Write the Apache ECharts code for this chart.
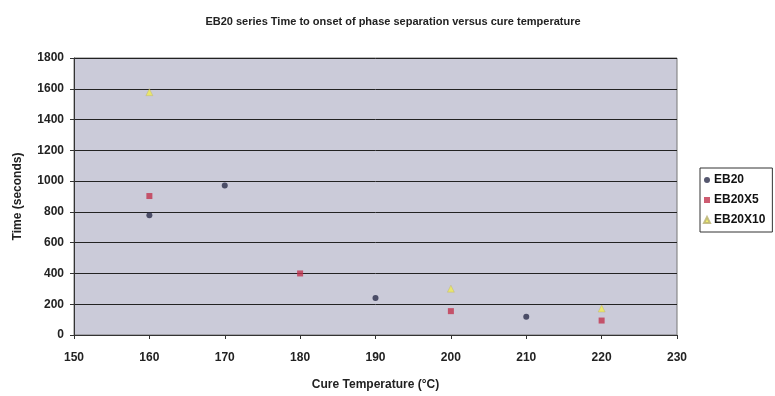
<!DOCTYPE html>
<html>
<head>
<meta charset="utf-8">
<script src="https://cdn.jsdelivr.net/npm/echarts@6/dist/echarts.min.js"></script>
<style>
  html, body { margin: 0; padding: 0; background: #fff; }
  #container { width: 775px; height: 396px; }
</style>
</head>
<body>
<div id="container"></div>
<script>
let chart = echarts.init(document.getElementById('container'));

// cure temperature (°C) / time to onset (s)
var eb20Temp = [160, 170, 190, 210];
var eb20Time = [778, 971, 241, 118];
var eb20x5Temp = [160, 180, 200, 220];
var eb20x5Time = [903, 400, 155, 94];
var eb20x10Temp = [160, 200, 220];
var eb20x10Time = [1578, 301, 172];

function pairs(xs, ys) {
    return xs.map((x, i) => [x, ys[i]]);
}

var font = 'Liberation Sans, Arial, sans-serif';

var option = {
    animation: false,
    title: {
        text: 'EB20 series Time to onset of phase separation versus cure temperature',
        left: 388,
        textAlign: 'center',
        top: 11,
        textStyle: {
            fontFamily: font,
            fontSize: 11,
            fontWeight: 'bold',
            color: '#222',
        },
    },
    legend: {
        orient: 'vertical',
        left: 700,
        top: 168,
        itemWidth: 6,
        itemHeight: 6,
        itemGap: 8,
        padding: [6, 7, 6, 3],
        borderColor: '#333',
        borderWidth: 1,
        textStyle: {
            fontFamily: font,
            fontSize: 12,
            fontWeight: 'bold',
            color: '#111',
            padding: [0, 0, 0, -1],
        },
        data: ['EB20', 'EB20X5', 'EB20X10'],
    },
    grid: {
        left: 74,
        right: 98,
        top: 58,
        bottom: 59,
        show: true,
        backgroundColor: '#cbcbd9',
        borderColor: '#777',
        borderWidth: 1,
    },
    xAxis: {
        type: 'value',
        min: 150,
        max: 230,
        interval: 10,
        name: 'Cure Temperature (°C)',
        nameLocation: 'middle',
        nameGap: 44,
        nameTextStyle: { fontFamily: font, fontSize: 12, fontWeight: 'bold', color: '#222' },
        axisLine: { lineStyle: { color: '#333' } },
        axisTick: { show: true, length: 4, inside: false, lineStyle: { color: '#333' } },
        axisLabel: { fontFamily: font, fontSize: 12, fontWeight: 'bold', color: '#222', margin: 17 },
        splitLine: { show: false },
    },
    yAxis: {
        type: 'value',
        min: 0,
        max: 1800,
        interval: 200,
        name: 'Time (seconds)',
        nameLocation: 'middle',
        nameGap: 50,
        nameTextStyle: { fontFamily: font, fontSize: 12, fontWeight: 'bold', color: '#222' },
        axisLine: { show: true, lineStyle: { color: '#333' } },
        axisTick: { show: true, length: 4, lineStyle: { color: '#333' } },
        axisLabel: {
            fontFamily: font, fontSize: 12, fontWeight: 'bold', color: '#222', margin: 10,
            formatter: v => String(v),
        },
        splitLine: { show: true, lineStyle: { color: '#222', width: 1 } },
    },
    series: [
        {
            name: 'EB20',
            type: 'scatter',
            symbol: 'circle',
            symbolSize: 6,
            itemStyle: { color: '#2b2d4a' },
            data: pairs(eb20Temp, eb20Time),
        },
        {
            name: 'EB20X5',
            type: 'scatter',
            symbol: 'rect',
            symbolSize: 6,
            itemStyle: { color: '#c2334e' },
            data: pairs(eb20x5Temp, eb20x5Time),
        },
        {
            name: 'EB20X10',
            type: 'scatter',
            symbol: 'triangle',
            symbolSize: 7,
            itemStyle: { color: '#f0ec50', borderColor: '#b8b070', borderWidth: 0.5 },
            data: pairs(eb20x10Temp, eb20x10Time),
        },
    ],
};

chart.setOption(option);
</script>
</body>
</html>
